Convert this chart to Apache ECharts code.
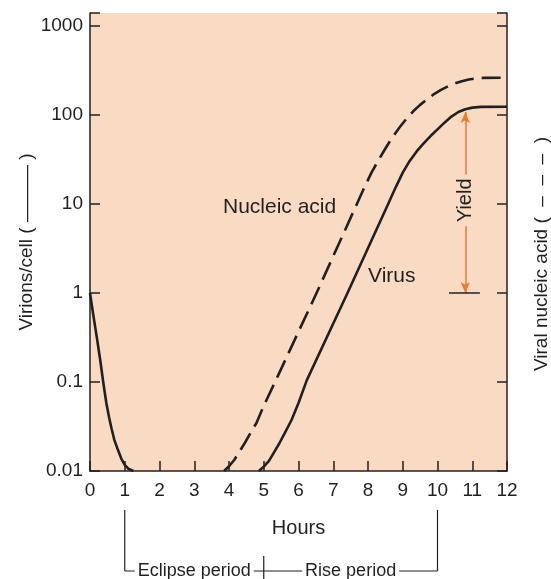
<!DOCTYPE html>
<html>
<head>
<meta charset="utf-8">
<script src="https://cdn.jsdelivr.net/npm/echarts@6/dist/echarts.min.js"></script>
<style>
  html, body { margin: 0; background: #fff; }
  #chart { width: 551px; height: 579px; }
</style>
</head>
<body>
<div id="chart"></div>
<script>
// x axis: hours after infection
const hourMin = 0
const hourMax = 12

// y axis (log): virions per cell / viral nucleic acid
const yMin = 0.01
const yMax = 1400

// virus (solid) — early drop after adsorption, then the rise
const virusDecay = [
  [0, 1], [0.1, 0.55], [0.2, 0.31], [0.3, 0.17], [0.38, 0.1],
  [0.47, 0.058], [0.55, 0.04], [0.62, 0.03], [0.7, 0.0224], [0.8, 0.0174],
  [0.9, 0.0138], [1.0, 0.0117], [1.1, 0.0106], [1.25, 0.01]
]
const virusRise = [
  [4.86, 0.01], [5.0, 0.0112], [5.15, 0.013], [5.3, 0.0163], [5.45, 0.0205],
  [5.6, 0.0265], [5.8, 0.0374], [6.0, 0.058], [6.24, 0.105], [7.41, 1],
  [8.58, 10], [8.8, 15.5], [9.0, 22.5], [9.2, 30.5], [9.4, 39],
  [9.6, 48], [9.8, 58], [10.0, 69], [10.2, 82], [10.4, 96],
  [10.6, 108], [10.8, 116], [11.0, 121], [11.25, 123.5], [12, 124]
]

// viral nucleic acid (dashed)
const nucleicAcid = [
  [3.86, 0.01], [4.0, 0.0113], [4.15, 0.0133], [4.3, 0.0165], [4.45, 0.0205],
  [4.6, 0.026], [4.79, 0.0346], [5.0, 0.054], [5.35, 0.105], [6.52, 1],
  [7.68, 10], [7.9, 15.5], [8.1, 22.5], [8.3, 31], [8.5, 42],
  [8.7, 56], [8.9, 72], [9.1, 90], [9.3, 110], [9.5, 130],
  [9.7, 150], [9.9, 172], [10.1, 192], [10.3, 210], [10.5, 226],
  [10.7, 240], [10.9, 251], [11.1, 258], [11.3, 261], [12, 262]
]

// yield arrow (hours, from, to), label position and the base line
const yieldArrow = [10.8, 1, 108]
const yieldLabelAt = [10.8, 11]
const yieldBase = [10.33, 11.22, 1]

// periods below the time axis
const periods = [
  { name: 'Eclipse period', from: 1, to: 5 },
  { name: 'Rise period', from: 5, to: 10 }
]

const ink = '#231f20'
const plotBg = '#f9dbc4'
const orange = '#ec7a30'
const font = 'Liberation Sans, Arial, Helvetica, sans-serif'

const chart = echarts.init(document.getElementById('chart'))

const isDecade = v => {
  const l = Math.log10(v)
  return Math.abs(l - Math.round(l)) < 1e-6
}
const decadeLabel = v => {
  if (!isDecade(v)) return ''
  const p = Math.round(Math.log10(v))
  return p < 0 ? Math.pow(10, p).toFixed(-p) : String(Math.pow(10, p))
}

const yAxisBase = {
  type: 'log',
  logBase: 10,
  min: yMin,
  max: yMax,
  nameLocation: 'middle',
  nameRotate: 90,
  nameMoveOverlap: false,
  nameTextStyle: { fontSize: 19, color: ink, fontFamily: font },
  axisLine: { show: true, lineStyle: { color: ink, width: 1.5 } },
  axisTick: { show: true, inside: true, length: 10, lineStyle: { color: ink, width: 1.5 } },
  splitLine: { show: false },
  minorTick: { show: false }
}

const option = {
  animation: false,
  textStyle: { fontFamily: font },
  grid: {
    left: 90, right: 44, top: 13, bottom: 108,
    outerBoundsMode: 'none',
    containLabel: false,
    show: true, backgroundColor: plotBg, borderWidth: 0
  },
  xAxis: {
    type: 'value',
    min: hourMin,
    max: hourMax,
    interval: 1,
    name: 'Hours',
    nameLocation: 'middle',
    nameGap: 47,
    nameTextStyle: { fontSize: 20, color: ink, fontFamily: font },
    axisLine: { lineStyle: { color: ink, width: 1.5 } },
    axisTick: { inside: true, length: 10, lineStyle: { color: ink, width: 1.5 } },
    axisLabel: { fontSize: 19, color: ink, margin: 10 },
    splitLine: { show: false }
  },
  yAxis: [
    Object.assign({}, yAxisBase, {
      position: 'left',
      name: 'Virions/cell ( ——— )',
      nameGap: 54,
      axisLabel: { fontSize: 19, color: ink, margin: 7, formatter: decadeLabel }
    }),
    Object.assign({}, yAxisBase, {
      position: 'right',
      name: 'Viral nucleic acid (  –  –  –  )',
      nameGap: 25,
      nameTextStyle: { fontSize: 19, color: ink, fontFamily: font, padding: [0, 24, 0, 0] },
      axisLabel: { show: false }
    })
  ],
  series: [
    {
      name: 'Virus',
      type: 'line',
      data: virusDecay.concat([[2, '-']], virusRise),
      showSymbol: false,
      lineStyle: { color: ink, width: 2.6, join: 'round' },
      markLine: {
        silent: true,
        symbol: ['arrow', 'arrow'],
        symbolSize: [7, 11],
        lineStyle: { color: orange, width: 1.5, type: 'solid' },
        label: { show: false },
        data: [
          [{ coord: [yieldArrow[0], yieldArrow[1]] }, { coord: [yieldArrow[0], yieldArrow[2]] }],
          [
            { coord: [yieldBase[0], yieldBase[2]], symbol: 'none', lineStyle: { color: ink, width: 1.5 } },
            { coord: [yieldBase[1], yieldBase[2]], symbol: 'none' }
          ]
        ]
      }
    },
    {
      name: 'Nucleic acid',
      type: 'line',
      data: nucleicAcid,
      showSymbol: false,
      lineStyle: { color: ink, width: 2.6, type: [19, 8], join: 'round' }
    }
  ],
  graphic: [
    { type: 'text', left: 223, top: 197, z: 100, style: { text: 'Nucleic acid', fill: ink, font: '21px ' + font } },
    { type: 'text', left: 368, top: 266, z: 100, style: { text: 'Virus', fill: ink, font: '21px ' + font } }
  ]
}

chart.setOption(option)

const px = (h, v) => chart.convertToPixel({ gridIndex: 0 }, [h, v])

// "Yield" written across the arrow
const yp = px(yieldLabelAt[0], yieldLabelAt[1])
const extra = [{
  type: 'text',
  x: yp[0],
  y: yp[1],
  rotation: Math.PI / 2,
  z: 100,
  style: {
    text: 'Yield',
    fill: ink,
    font: '20px ' + font,
    align: 'center',
    verticalAlign: 'middle',
    backgroundColor: plotBg,
    padding: [0, 4]
  }
}]

// period brackets under the time axis, placed through the axis scale
const axisY = px(0, yMin)[1]
const topY = axisY + 39
const lineY = axisY + 100
const first = px(periods[0].from, yMin)[0]
const last = px(periods[periods.length - 1].to, yMin)[0]
const stroke = { stroke: ink, lineWidth: 1.2 }
extra.push({ type: 'line', shape: { x1: first, y1: topY, x2: first, y2: lineY }, style: stroke })
extra.push({ type: 'line', shape: { x1: last, y1: topY, x2: last, y2: lineY }, style: stroke })
extra.push({ type: 'line', shape: { x1: first, y1: lineY, x2: last, y2: lineY }, style: stroke })
periods.forEach((p, i) => {
  const a = px(p.from, yMin)[0]
  const b = px(p.to, yMin)[0]
  if (i > 0) {
    extra.push({ type: 'line', shape: { x1: a, y1: lineY - 15, x2: a, y2: lineY + 10 }, style: stroke })
  }
  extra.push({
    type: 'text',
    x: (a + b) / 2,
    y: lineY,
    z: 100,
    style: {
      text: p.name,
      fill: ink,
      font: '18px ' + font,
      align: 'center',
      verticalAlign: 'middle',
      backgroundColor: '#fff',
      padding: [0, 3]
    }
  })
})
chart.setOption({ graphic: option.graphic.concat(extra) })
</script>
</body>
</html>
